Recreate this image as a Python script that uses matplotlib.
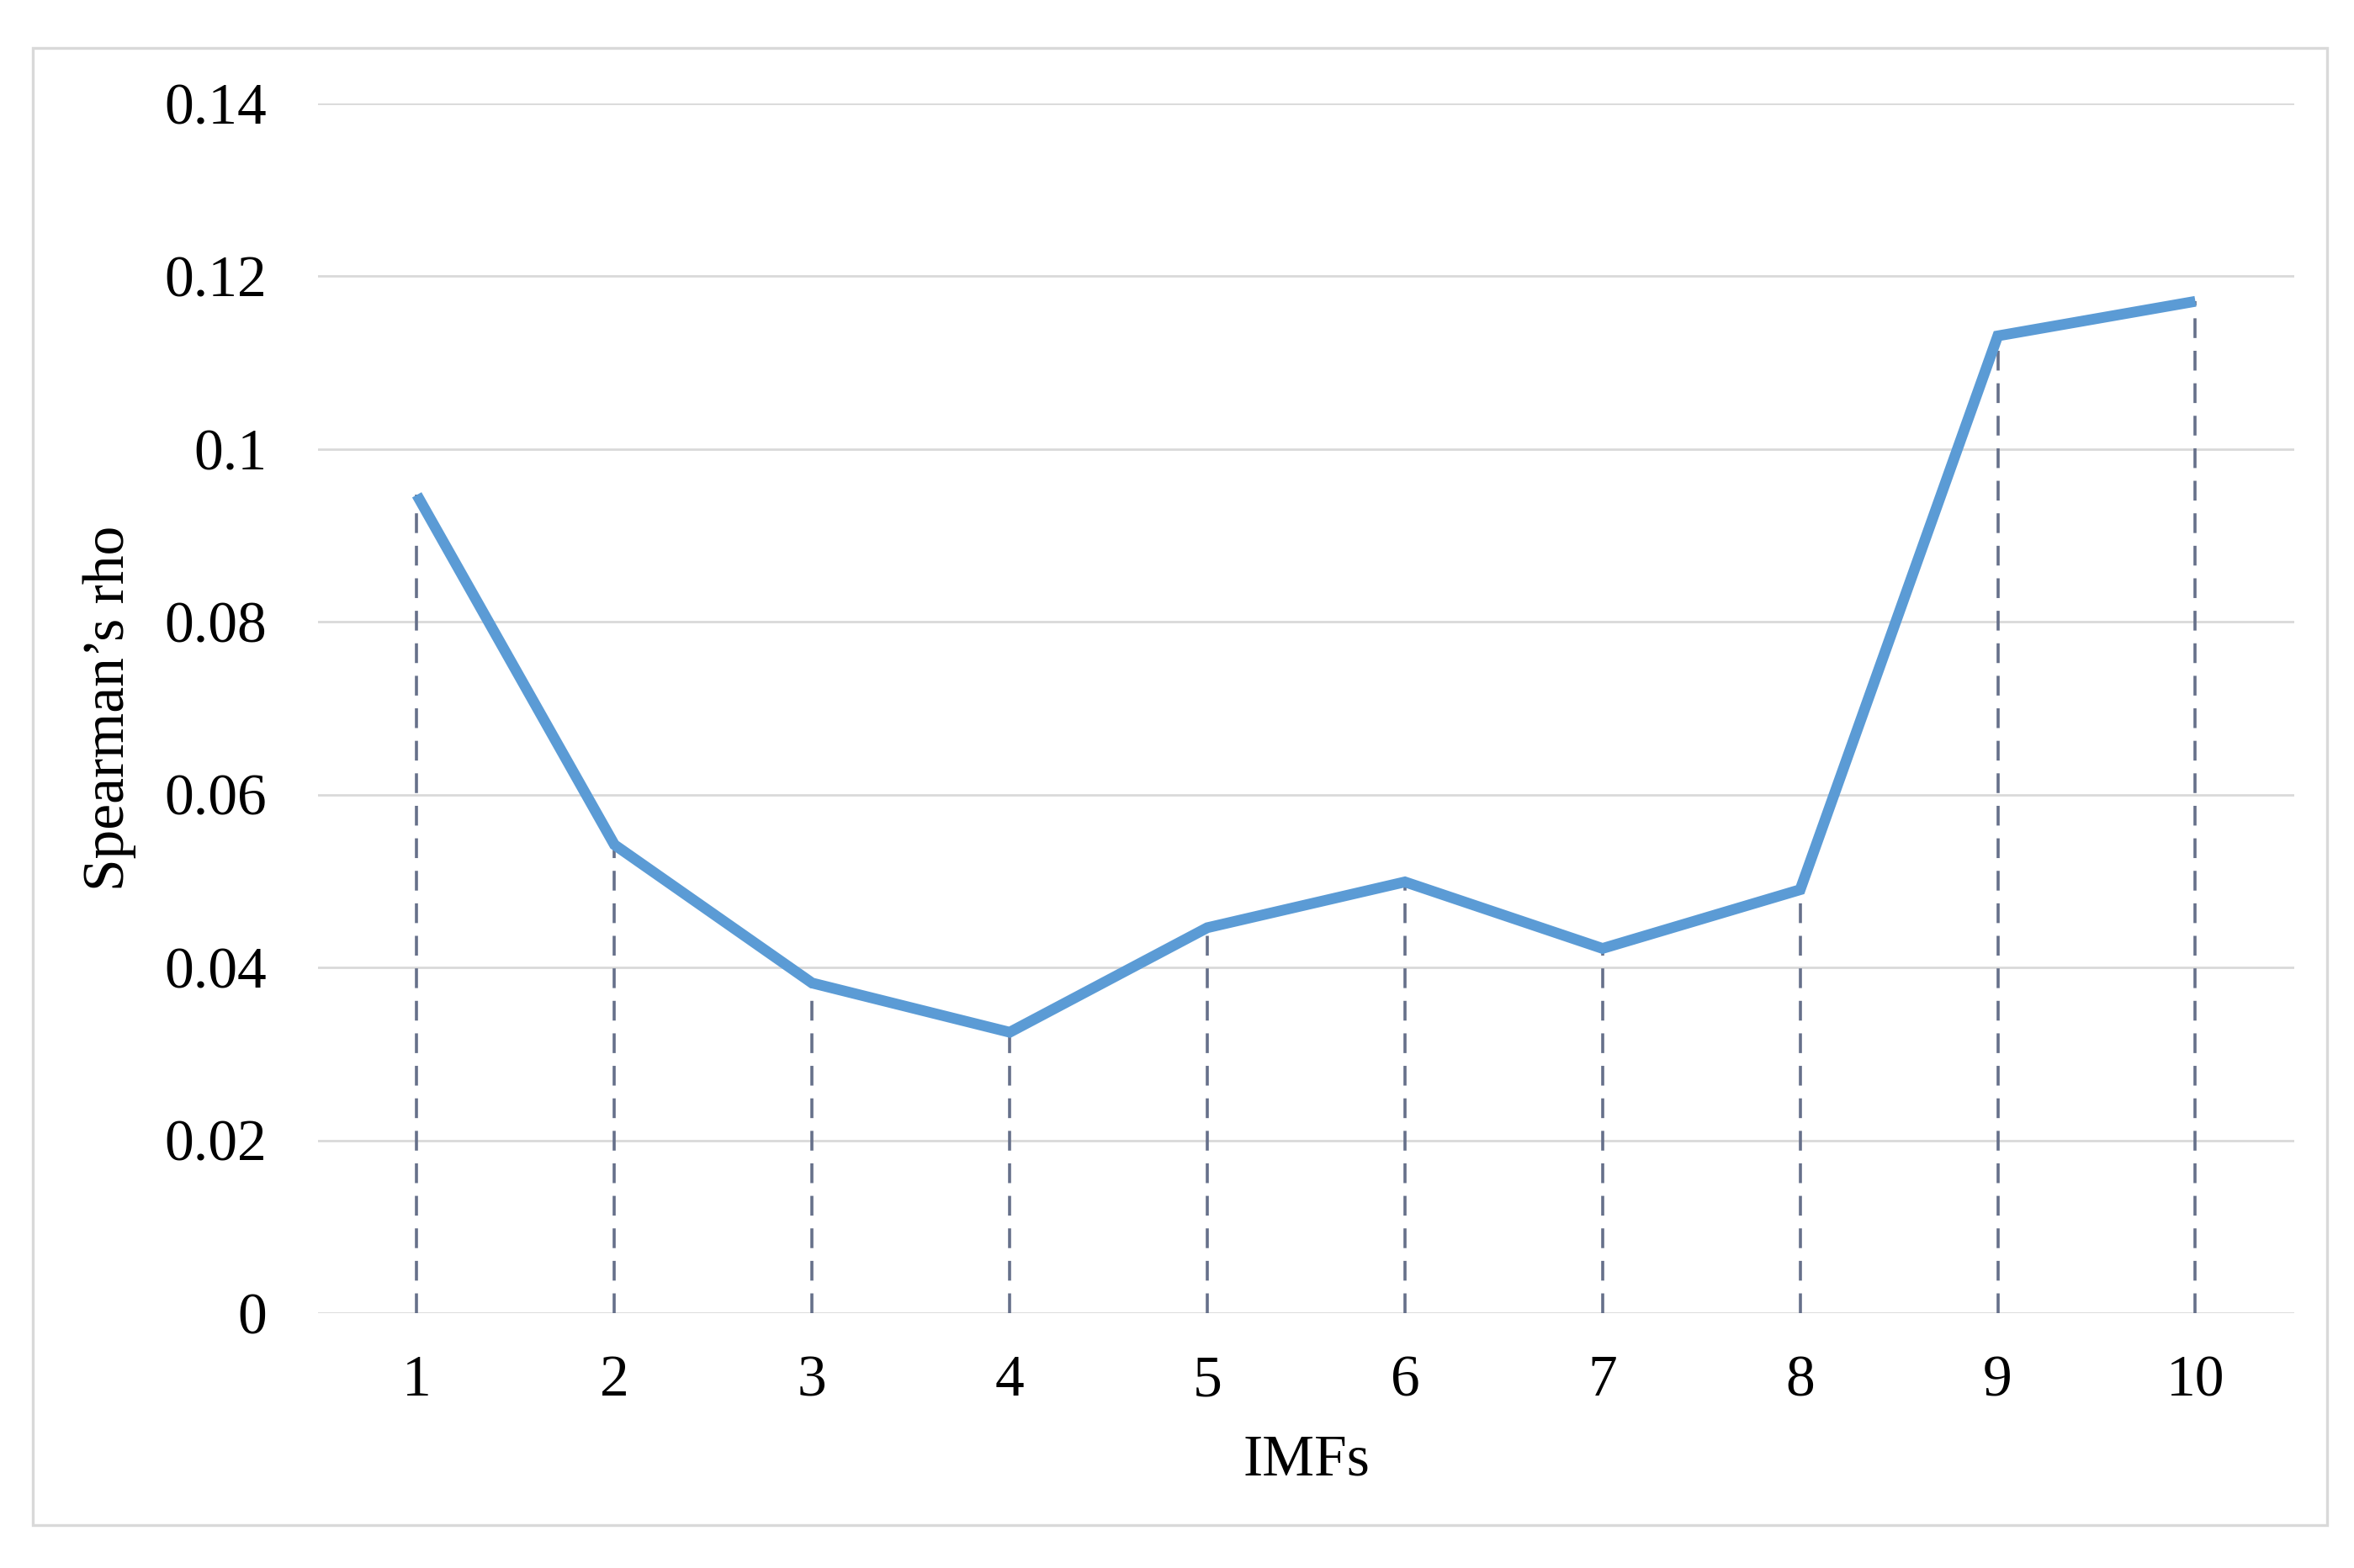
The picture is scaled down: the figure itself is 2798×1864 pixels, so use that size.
import matplotlib
matplotlib.use("Agg")
import matplotlib.pyplot as plt
from matplotlib.patches import Rectangle

categories = ["1", "2", "3", "4", "5", "6", "7", "8", "9", "10"]
rho = [0.0947, 0.0542, 0.0382, 0.0325, 0.0446, 0.0499, 0.0422, 0.0490, 0.1131, 0.1171]
yticks = [0, 0.02, 0.04, 0.06, 0.08, 0.1, 0.12, 0.14]
ytick_labels = ["0", "0.02", "0.04", "0.06", "0.08", "0.1", "0.12", "0.14"]

plt.rcParams['font.family'] = ['Liberation Serif', 'DejaVu Serif']

fig = plt.figure(figsize=(13.99, 9.32), dpi=200)
ax = fig.add_axes([0.1351, 0.1626, 0.9746 - 0.1351, 0.934 - 0.1626])

# outer border
fig.patches.append(Rectangle((0.0139, 0.0274), 0.9886 - 0.0139, 0.9694 - 0.0274,
                             transform=fig.transFigure, fill=False,
                             edgecolor='#D9D9D9', linewidth=1.2, zorder=0))

x = list(range(1, len(categories) + 1))

for yv in yticks:
    ax.axhline(yv, color='#D9D9D9', linewidth=1.0, zorder=1)

ax.vlines(x, 0, rho, colors='#66708A', linewidth=1.3, linestyles=(0, (6.5, 4.2)), zorder=2)
ax.plot(x, rho, color='#5B9BD5', linewidth=4.6, solid_joinstyle='miter',
        solid_capstyle='butt', zorder=3)

ax.set_xlim(0.5, len(categories) + 0.5)
ax.set_ylim(0, 0.14)
ax.set_xticks(x)
ax.set_xticklabels(categories)
ax.set_yticks(yticks)
ax.set_yticklabels(ytick_labels)
ax.tick_params(axis='both', length=0, labelsize=25, colors='black')
ax.tick_params(axis='x', pad=18)
ax.tick_params(axis='y', pad=22)
for s in ax.spines.values():
    s.set_visible(False)

ax.set_xlabel("IMFs", fontsize=25)
ax.set_ylabel("Spearman\u2019s rho", fontsize=25)
ax.xaxis.set_label_coords(0.5, -0.1)
ax.yaxis.set_label_coords(-0.092, 0.5)

fig.savefig("out.png", dpi=200, facecolor='white')
